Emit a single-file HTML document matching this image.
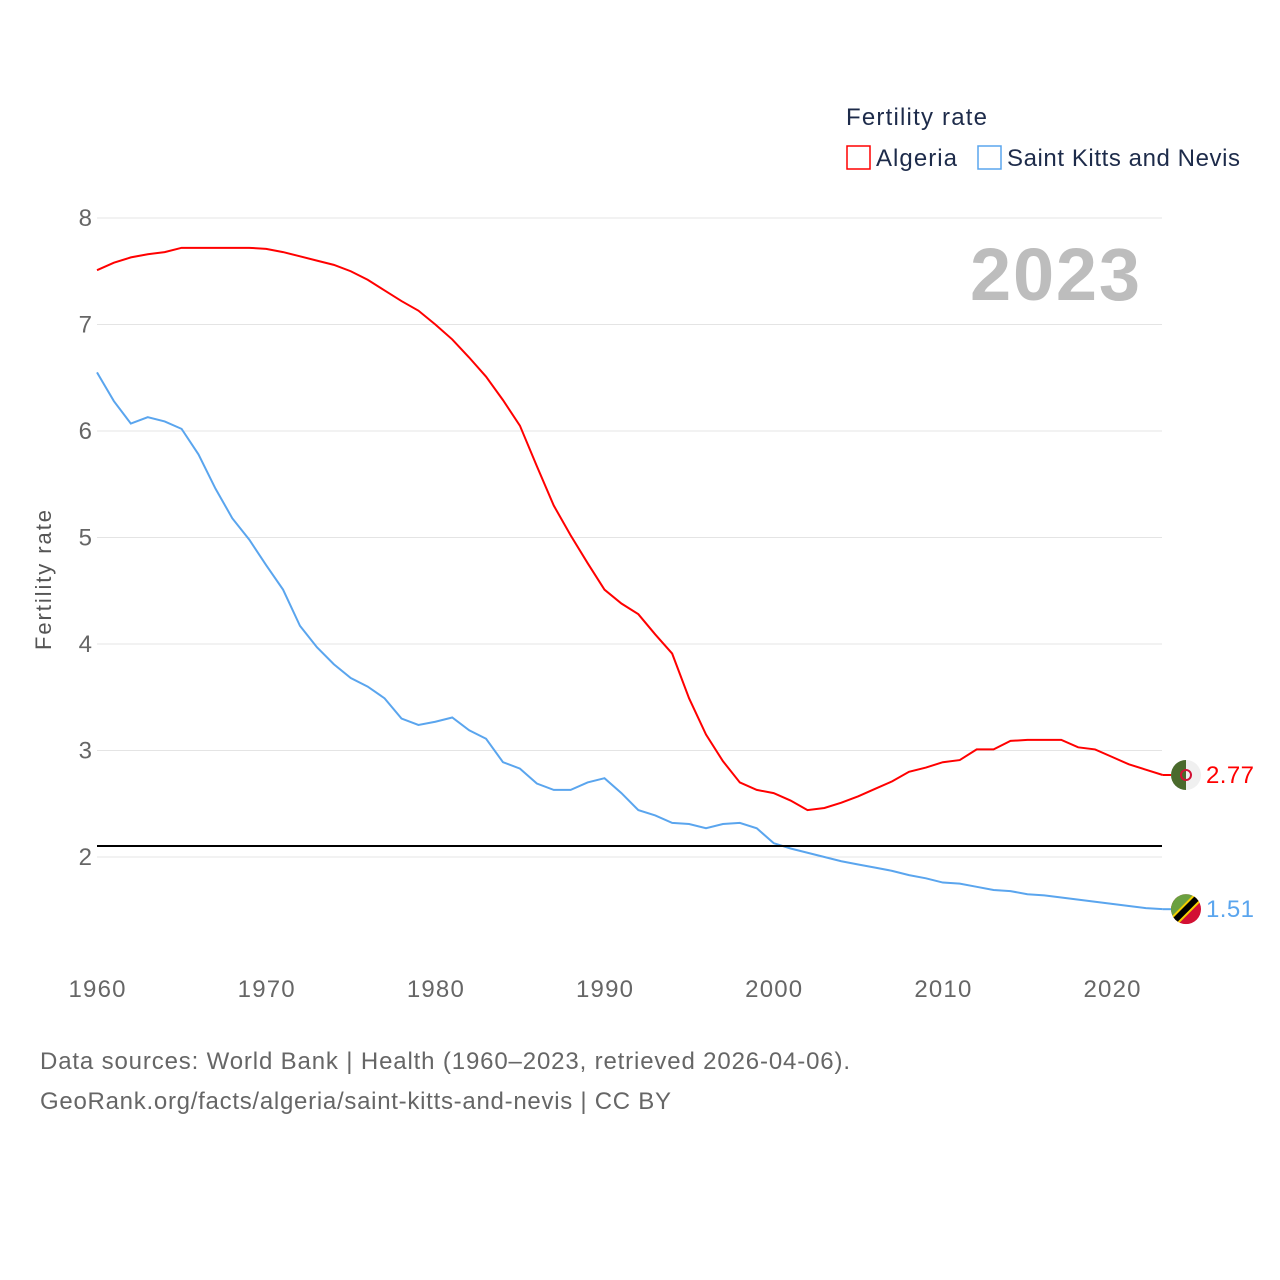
<!DOCTYPE html>
<html><head><meta charset="utf-8">
<style>
body{margin:0;background:#fff;}
svg{display:block;font-family:"Liberation Sans",sans-serif;}
</style></head>
<body>
<svg id="chart" width="1280" height="1280" viewBox="0 0 1280 1280">
<rect width="1280" height="1280" fill="#fff"/>
<g id="grid"></g>
<g id="yticks"></g>
<g id="xticks"></g>
<text x="51" y="580" transform="rotate(-90 51 580)" text-anchor="middle" font-size="22" fill="#555" textLength="140">Fertility rate</text>
<text x="1140" y="300" text-anchor="end" font-size="74" font-weight="bold" fill="#bdbdbd" textLength="170">2023</text>
<g id="series"></g>
<line x1="97" x2="1162" y1="846" y2="846" stroke="#000" stroke-width="2"/>
<g>
<text x="846" y="125" font-size="24" fill="#1d2b4a" textLength="141">Fertility rate</text>
<g><rect x="847" y="146" width="23" height="23" fill="none" stroke="#f00" stroke-width="1.5"/><text x="876" y="166" font-size="24" fill="#1d2b4a" textLength="81">Algeria</text></g>
<g><rect x="978" y="146" width="23" height="23" fill="none" stroke="#5aa5ee" stroke-width="1.5"/><text x="1007" y="166" font-size="24" fill="#1d2b4a" textLength="233">Saint Kitts and Nevis</text></g>
</g>
<g id="ends"></g>
<text x="40" y="1069" font-size="24" fill="#666" textLength="810">Data sources: World Bank | Health (1960–2023, retrieved 2026-04-06).</text>
<text x="40" y="1109" font-size="24" fill="#666" textLength="631">GeoRank.org/facts/algeria/saint-kitts-and-nevis | CC BY</text>
</svg>
<script>
const years=[];for(let y=1960;y<=2023;y++)years.push(y);
const algeria=[7.51,7.58,7.63,7.66,7.68,7.72,7.72,7.72,7.72,7.72,7.71,7.68,7.64,7.60,7.56,7.50,7.42,7.32,7.22,7.13,7.00,6.86,6.69,6.51,6.29,6.05,5.67,5.30,5.02,4.76,4.51,4.38,4.28,4.09,3.91,3.49,3.15,2.90,2.70,2.63,2.60,2.53,2.44,2.46,2.51,2.57,2.64,2.71,2.80,2.84,2.89,2.91,3.01,3.01,3.09,3.10,3.10,3.10,3.03,3.01,2.94,2.87,2.82,2.77];
const skn=[6.55,6.28,6.07,6.13,6.09,6.02,5.78,5.46,5.18,4.98,4.74,4.51,4.17,3.97,3.81,3.68,3.60,3.49,3.30,3.24,3.27,3.31,3.19,3.11,2.89,2.83,2.69,2.63,2.63,2.70,2.74,2.60,2.44,2.39,2.32,2.31,2.27,2.31,2.32,2.27,2.13,2.08,2.04,2.00,1.96,1.93,1.90,1.87,1.83,1.80,1.76,1.75,1.72,1.69,1.68,1.65,1.64,1.62,1.60,1.58,1.56,1.54,1.52,1.51];
const yTicks=[2,3,4,5,6,7,8];
const xTicks=[1960,1970,1980,1990,2000,2010,2020];
const X=v=>97+(v-1960)*(1015/60);
const Y=v=>857-(v-2)*106.5;
const NS="http://www.w3.org/2000/svg";
function mk(t,a,p){const e=document.createElementNS(NS,t);for(const k in a)e.setAttribute(k,a[k]);p.appendChild(e);return e;}
const grid=document.getElementById('grid'),yt=document.getElementById('yticks'),xt=document.getElementById('xticks');
yTicks.forEach(v=>{
 const l=mk('line',{x1:97,x2:1162,y1:Y(v),y2:Y(v),stroke:'#e4e4e4','stroke-width':1},grid);
 
 
 const t=mk('text',{x:92,y:Y(v)+8,'text-anchor':'end','font-size':24,fill:'#666'},yt);t.textContent=v;
 
 
});
xTicks.forEach(v=>{
 const t=mk('text',{x:X(v),y:997,'text-anchor':'middle','font-size':24,fill:'#666',textLength:57},xt);t.textContent=v;
 
 
});
const S=document.getElementById('series');
[[algeria,'#f00','algeria-line'],[skn,'#5aa5ee','saint-kitts-line']].forEach(([d,c,n])=>{
 const p=mk('polyline',{points:d.map((v,i)=>X(years[i])+','+Y(v)).join(' '),fill:'none',stroke:c,'stroke-width':2},S);
 
 
});
const E=document.getElementById('ends');
function endLabel(d,c,name,flag){
 const v=d[d.length-1],y=Y(v),x=X(2023);
 mk('line',{x1:x,x2:x+10,y1:y,y2:y,stroke:c,'stroke-width':2},E);
 const g=mk('g',{},E);
 
 
 flag(g,1186,y);
 const t=mk('text',{x:1206,y:y+8,'font-size':24,fill:c,textLength:48},E);t.textContent=v.toFixed(2);
 
 
}
endLabel(algeria,'#f00','algeria',(g,cx,cy)=>{
 mk('circle',{cx,cy,r:15,fill:'#f0f0f0'},g);
 mk('path',{d:`M${cx},${cy-15} A15,15 0 0 0 ${cx},${cy+15} Z`,fill:'#4a6a2c'},g);
 mk('circle',{cx,cy,r:5,fill:'none',stroke:'#d21034','stroke-width':2},g);
});
endLabel(skn,'#5aa5ee','saint-kitts',(g,cx,cy)=>{
 mk('clipPath',{id:'cp'},g);
 const cp=g.lastChild;mk('circle',{cx,cy,r:15},cp);
 const h=mk('g',{'clip-path':'url(#cp)'},g);
 mk('rect',{x:cx-15,y:cy-15,width:30,height:30,fill:'#d21034'},h);
 mk('path',{d:`M${cx-15},${cy-15} H${cx+15} L${cx-15},${cy+15} Z`,fill:'#6aa040'},h);
 mk('line',{x1:cx-15,y1:cy+15,x2:cx+15,y2:cy-15,stroke:'#f5d000','stroke-width':10},h);
 mk('line',{x1:cx-15,y1:cy+15,x2:cx+15,y2:cy-15,stroke:'#000','stroke-width':6},h);
});
</script>
</body></html>
